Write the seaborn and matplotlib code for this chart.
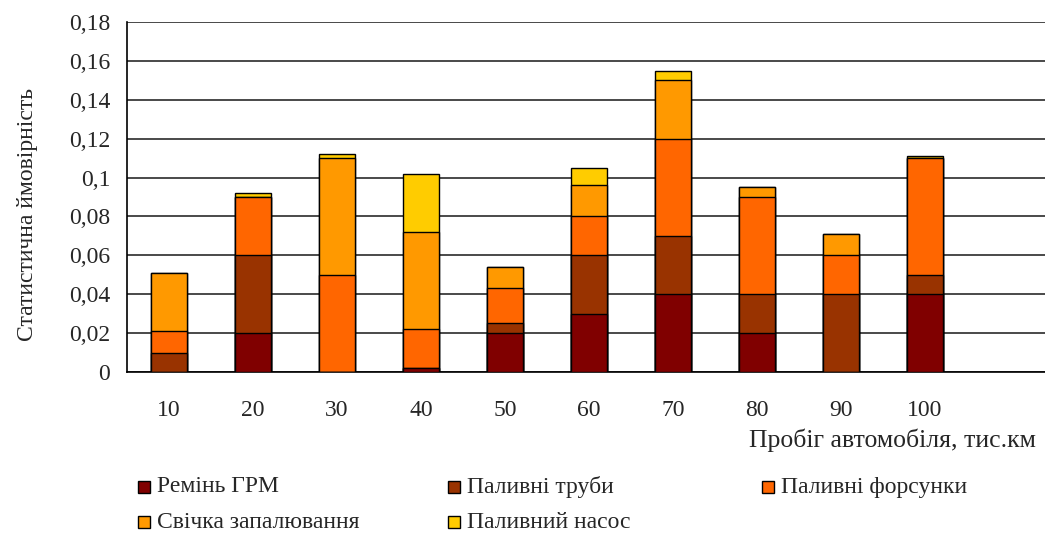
import matplotlib
matplotlib.use("Agg")
import matplotlib.pyplot as plt
import numpy as np
import pandas as pd
import seaborn as sns
from matplotlib.patches import Rectangle

# Mileage categories (thousand km)
mileage = ["10", "20", "30", "40", "50", "60", "70", "80", "90", "100"]

# Failure probability contributions per component
belt = [0.0, 0.02, 0.0, 0.002, 0.02, 0.03, 0.04, 0.02, 0.0, 0.04]
pipes = [0.01, 0.04, 0.0, 0.0, 0.005, 0.03, 0.03, 0.02, 0.04, 0.01]
injectors = [0.011, 0.03, 0.05, 0.02, 0.018, 0.02, 0.05, 0.05, 0.02, 0.06]
plugs = [0.03, 0.0, 0.06, 0.05, 0.011, 0.016, 0.03, 0.005, 0.011, 0.0]
pump = [0.0, 0.002, 0.002, 0.03, 0.0, 0.009, 0.005, 0.0, 0.0, 0.0012]

series_names = ["Ремінь ГРМ", "Паливні труби", "Паливні форсунки",
                "Свічка запалювання", "Паливний насос"]
series_colors = ["#800000", "#993300", "#FF6600", "#FF9900", "#FFCC00"]

y_ticks = [0, 0.02, 0.04, 0.06, 0.08, 0.1, 0.12, 0.14, 0.16, 0.18]
y_tick_labels = ["0", "0,02", "0,04", "0,06", "0,08", "0,1", "0,12", "0,14", "0,16", "0,18"]

sns.set_style("white")
plt.rcParams["font.family"] = ["Liberation Serif", "DejaVu Serif"]

fig = plt.figure(figsize=(10.45, 5.36), dpi=100)
ax = fig.add_axes([0.1215, 0.306, 0.8785, 0.653])

# Cumulative stack heights; draw tallest first so lower segments overlay
stack = np.cumsum(np.array([belt, pipes, injectors, plugs, pump]), axis=0)
df = pd.DataFrame({"mileage": mileage})
for i in range(len(series_names) - 1, -1, -1):
    df["top"] = stack[i]
    sns.barplot(data=df, x="mileage", y="top", order=mileage,
                color=series_colors[i], saturation=1, width=0.43,
                edgecolor="black", linewidth=1.0, ax=ax, zorder=3)

ax.set_xlim(-0.5, 10.43)
ax.set_ylim(0, 0.18)
ax.set_yticks(y_ticks)
ax.set_yticklabels(y_tick_labels, fontsize=17)
ax.tick_params(axis="y", direction="out", length=7, width=1, color="black", pad=5)
ax.yaxis.grid(True, color="#3a3a3a", linewidth=1.3, zorder=0)
ax.xaxis.grid(False)
ax.set_axisbelow(True)

ax.set_xticks(range(len(mileage)))
ax.set_xticklabels(mileage, fontsize=17)
ax.set_xticks(np.arange(-0.5, 10.0, 1.0), minor=True)
ax.tick_params(axis="x", which="major", length=0, pad=20)
ax.tick_params(axis="x", which="minor", direction="out", length=6, width=1, color="black")

ax.set_xlabel("")
ax.set_ylabel("")
for s in ["top", "right"]:
    ax.spines[s].set_visible(False)
for s in ["left", "bottom"]:
    ax.spines[s].set_color("black")
    ax.spines[s].set_linewidth(1.2)

fig.text(0.026, 0.60, "Статистична ймовірність", rotation=90,
         ha="center", va="center", fontsize=17)
fig.text(0.991, 0.179, "Пробіг автомобіля, тис.км", ha="right", va="center", fontsize=18.5)

# Legend laid out in three columns, two rows
W, H = 1045.0, 536.0
legend_pos = [(138, 487), (448, 487), (762, 487), (138, 522), (448, 522)]
for (px, py), name, col in zip(legend_pos, series_names, series_colors):
    fig.patches.append(Rectangle((px / W, 1 - (py + 6) / H), 12 / W, 12 / H,
                                 transform=fig.transFigure, facecolor=col,
                                 edgecolor="black", linewidth=1.0))
    fig.text((px + 19) / W, 1 - py / H, name, ha="left", va="center", fontsize=17)

fig.savefig("out.png", dpi=100)
